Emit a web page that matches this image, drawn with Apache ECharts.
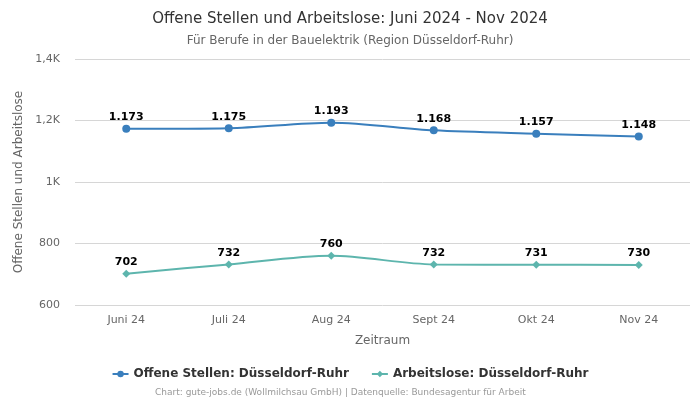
<!DOCTYPE html>
<html><head><meta charset="utf-8">
<script src="https://cdn.jsdelivr.net/npm/echarts@6/dist/echarts.min.js"></script>
<style>html,body{margin:0;padding:0;background:#fff}#c{width:700px;height:400px}</style>
</head><body><div id="c"></div>
<script>
const categories = ['Juni 24','Juli 24','Aug 24','Sept 24','Okt 24','Nov 24'];
const offeneStellen = [1173, 1175, 1193, 1168, 1157, 1148];
const arbeitslose = [702, 732, 760, 732, 731, 730];
const seriesNames = ['Offene Stellen: Düsseldorf-Ruhr', 'Arbeitslose: Düsseldorf-Ruhr'];
const yTicks = {1400:'1,4K',1200:'1,2K',1000:'1K',800:'800',600:'600'};

const F = 'DejaVu Sans';
const fmt = v => v >= 1000 ? (v/1000).toFixed(3) : String(v);
const chart = echarts.init(document.getElementById('c'), null, {renderer:'canvas'});
chart.setOption({
  animation:false,
  textStyle:{fontFamily:F},
  title:[
    {text:'Offene Stellen und Arbeitslose: Juni 2024 - Nov 2024', left:'center', top:7,
     textStyle:{fontFamily:F,fontSize:15,fontWeight:'normal',color:'#333'}},
    {text:'Für Berufe in der Bauelektrik (Region Düsseldorf-Ruhr)', left:'center', top:30,
     textStyle:{fontFamily:F,fontSize:12,fontWeight:'normal',color:'#666'}},
    {text:'Chart: gute-jobs.de (Wollmilchsau GmbH) | Datenquelle: Bundesagentur für Arbeit', left:150, top:383,
     textStyle:{fontFamily:F,fontSize:9,fontWeight:'normal',color:'#999'}}
  ],
  legend:{top:363, left:'center', itemGap:22, itemWidth:16, itemHeight:8,
    textStyle:{fontFamily:F,fontSize:12,fontWeight:'bold',color:'#333'},
    data:[seriesNames[0],seriesNames[1]]},
  grid:{left:75, right:10, top:59, bottom:95, containLabel:false},
  xAxis:{type:'category', data:categories, boundaryGap:true,
    name:'Zeitraum', nameLocation:'middle', nameGap:30,
    nameTextStyle:{fontFamily:F,fontSize:12,color:'#666'},
    axisLine:{show:false}, axisTick:{show:false},
    axisLabel:{fontFamily:F,fontSize:11,color:'#666',margin:10}},
  yAxis:{type:'value', min:600, max:1400, interval:200,
    name:'Offene Stellen und Arbeitslose', nameLocation:'middle', nameGap:47,
    nameTextStyle:{fontFamily:F,fontSize:12,color:'#666'},
    axisLabel:{fontFamily:F,fontSize:11,color:'#666',formatter:v=>yTicks[v]||String(v),margin:15},
    splitLine:{lineStyle:{color:'#d6d6d6'}}},
  series:[
    {name:seriesNames[0], type:'line', data:offeneStellen, smooth:0.3,
     symbol:'circle', symbolSize:8, color:'#3a7fbd', lineStyle:{width:2},
     label:{show:true, position:'top', distance:2, fontFamily:F, fontSize:11, fontWeight:'bold', color:'#000', formatter:p=>fmt(p.value)}},
    {name:seriesNames[1], type:'line', data:arbeitslose, smooth:0.3,
     symbol:'diamond', symbolSize:8, color:'#5db5ad', lineStyle:{width:2},
     label:{show:true, position:'top', distance:2, fontFamily:F, fontSize:11, fontWeight:'bold', color:'#000', formatter:p=>fmt(p.value)}}
  ]
});
</script></body></html>
